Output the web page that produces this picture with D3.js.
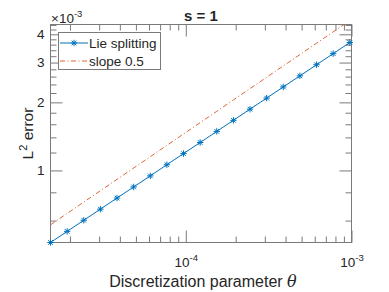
<!DOCTYPE html>
<html>
<head>
<meta charset="utf-8">
<script src="https://cdn.jsdelivr.net/npm/d3@7"></script>
<style>
  body { margin: 0; background: #fff; }
  text { font-family: "Liberation Sans", Arial, sans-serif; fill: #262626; }
</style>
</head>
<body>
<svg id="chart" width="389" height="292"></svg>
<script>
"use strict";

// discretization parameter theta (x)
var theta = [1.526e-5, 1.923e-5, 2.422e-5, 3.052e-5, 3.845e-5, 4.845e-5, 6.104e-5,
  7.690e-5, 9.689e-5, 1.221e-4, 1.538e-4, 1.938e-4, 2.441e-4, 3.076e-4, 3.875e-4,
  4.883e-4, 6.152e-4, 7.751e-4, 9.766e-4];
// L2 error of Lie splitting
var lieError = [0.480e-3, 0.5375e-3, 0.602e-3, 0.674e-3, 0.755e-3, 0.845e-3, 0.946e-3,
  1.060e-3, 1.187e-3, 1.329e-3, 1.488e-3, 1.666e-3, 1.866e-3, 2.089e-3, 2.340e-3,
  2.620e-3, 2.934e-3, 3.285e-3, 3.679e-3];
// reference line, slope 0.5
var slopeRef = [0.575e-3, 0.6454e-3, 0.7245e-3, 0.8132e-3, 0.9128e-3, 1.0246e-3, 1.150e-3,
  1.291e-3, 1.449e-3, 1.627e-3, 1.826e-3, 2.050e-3, 2.300e-3, 2.582e-3, 2.898e-3,
  3.253e-3, 3.652e-3, 4.099e-3, 4.600e-3];

var xMajor = [1e-4, 1e-3],
    xMajorLabels = ["-4", "-3"];
var xMinor = [2e-5, 3e-5, 4e-5, 5e-5, 6e-5, 7e-5, 8e-5, 9e-5,
  2e-4, 3e-4, 4e-4, 5e-4, 6e-4, 7e-4, 8e-4, 9e-4];
var yMajor = [1e-3, 2e-3, 3e-3, 4e-3],
    yMajorLabels = ["1", "2", "3", "4"];
var yMinor = [0.6e-3, 0.8e-3, 1.2e-3, 1.4e-3, 1.6e-3, 1.8e-3, 2.2e-3, 2.4e-3, 2.6e-3,
  2.8e-3, 3.2e-3, 3.4e-3, 3.6e-3, 3.8e-3, 4.2e-3, 4.4e-3];

var seriesNames = ["Lie splitting", "slope 0.5"];

var Draw = (function() {
  var svg = d3.select("#chart");
  var left = 50.5, right = 351.5, top = 24.5, bottom = 242.5;
  var blue = "#0072BD", orange = "#D95319", axisColor = "#7a7a7a";

  var x = d3.scaleLog().domain([1.526e-5, 1e-3]).range([left, right]);
  var y = d3.scaleLog().domain([0.48e-3, 4.42e-3]).range([bottom, top]);

  svg.append("defs").append("clipPath").attr("id", "plotclip")
    .append("rect").attr("x", left).attr("y", top)
    .attr("width", right - left).attr("height", bottom - top);

  // axes: inward ticks on all four sides
  function styleAxis(g) {
    g.select(".domain").remove();
    g.attr("color", axisColor).attr("font-size", null).attr("font-family", null);
  }
  var sides = [
    { ax: d3.axisBottom, at: "translate(0," + bottom + ")", s: x, major: xMajor, minor: xMinor, lab: true },
    { ax: d3.axisTop,    at: "translate(0," + top + ")",    s: x, major: xMajor, minor: xMinor, lab: false },
    { ax: d3.axisLeft,   at: "translate(" + left + ",0)",   s: y, major: yMajor, minor: yMinor, lab: true },
    { ax: d3.axisRight,  at: "translate(" + right + ",0)",  s: y, major: yMajor, minor: yMinor, lab: false }
  ];
  sides.forEach(function(sd) {
    svg.append("g").attr("transform", sd.at)
      .call(sd.ax(sd.s).tickValues(sd.minor).tickSize(-6).tickFormat(""))
      .call(styleAxis);
    var g = svg.append("g").attr("transform", sd.at)
      .call(sd.ax(sd.s).tickValues(sd.major).tickSize(-12)
        .tickPadding(sd.ax === d3.axisBottom ? 14.5 : 6)
        .tickFormat(sd.lab ? null : ""))
      .call(styleAxis);
    g.selectAll("text").attr("font-size", 13.5).attr("fill", "#262626");
  });

  // x tick labels as powers of ten
  svg.selectAll("g").filter(function() {
      return this.getAttribute("transform") === "translate(0," + bottom + ")";
    })
    .selectAll(".tick text")
    .each(function(d) {
      var i = xMajor.indexOf(d);
      if (i < 0) return;
      var t = d3.select(this).text("10");
      t.append("tspan").attr("dy", -6).attr("font-size", 9.5).text(xMajorLabels[i]);
    });
  svg.selectAll("g").filter(function() {
      return this.getAttribute("transform") === "translate(" + left + ",0)";
    })
    .selectAll(".tick text")
    .each(function(d) {
      var i = yMajor.indexOf(d);
      if (i >= 0) d3.select(this).text(yMajorLabels[i]);
    });

  // box
  svg.append("rect").attr("x", left).attr("y", top)
    .attr("width", right - left).attr("height", bottom - top)
    .attr("fill", "none").attr("stroke", axisColor).attr("stroke-width", 1);

  var plot = svg.append("g").attr("clip-path", "url(#plotclip)");

  var line = function(vals) {
    return d3.line().x((d, i) => x(theta[i])).y(d => y(d))(vals);
  };

  plot.append("path").attr("d", line(slopeRef))
    .attr("fill", "none").attr("stroke", orange).attr("stroke-width", 0.9)
    .attr("stroke-dasharray", "5,2.5,1,2.5");

  plot.append("path").attr("d", line(lieError))
    .attr("fill", "none").attr("stroke", blue).attr("stroke-width", 1);

  var r = 3.2, a = r * 0.72;
  var star = "M" + (-r) + ",0H" + r + "M0," + (-r) + "V" + r +
    "M" + (-a) + "," + (-a) + "L" + a + "," + a + "M" + (-a) + "," + a + "L" + a + "," + (-a);

  svg.append("g").selectAll("path").data(lieError).enter().append("path")
    .attr("transform", (d, i) => "translate(" + x(theta[i]) + "," + y(d) + ")")
    .attr("d", star).attr("fill", "none").attr("stroke", blue).attr("stroke-width", 1);

  // exponent label
  var ex = svg.append("text").attr("x", 51).attr("y", 22.5).attr("font-size", 13.5);
  ex.append("tspan").text("\u00d710");
  ex.append("tspan").attr("dy", -6).attr("font-size", 9.5).text("-3");

  // title and axis labels
  svg.append("text").attr("x", (left + right) / 2).attr("y", 20.5)
    .attr("text-anchor", "middle").attr("font-size", 15).attr("font-weight", "bold")
    .attr("fill", "#000").text("s = 1");

  var xl = svg.append("text").attr("x", (left + right) / 2 + 2).attr("y", 287)
    .attr("text-anchor", "middle").attr("font-size", 16);
  xl.append("tspan").text("Discretization parameter ");
  xl.append("tspan").attr("font-style", "italic").attr("font-family", "'DejaVu Serif', serif").text("\u03b8");

  var yl = svg.append("text").attr("transform", "translate(33," + (top + bottom) / 2 + ") rotate(-90)")
    .attr("text-anchor", "middle").attr("font-size", 15.5);
  yl.append("tspan").text("L");
  yl.append("tspan").attr("dy", -6).attr("font-size", 11).text("2");
  yl.append("tspan").attr("dy", 6).text(" error");

  // legend
  var lg = svg.append("g");
  lg.append("rect").attr("x", 58.5).attr("y", 32.5).attr("width", 102).attr("height", 37)
    .attr("fill", "#fff").attr("stroke", axisColor).attr("stroke-width", 1);
  var ly = [43, 61];
  lg.append("line").attr("x1", 60).attr("x2", 88).attr("y1", ly[0]).attr("y2", ly[0])
    .attr("stroke", blue).attr("stroke-width", 1);
  lg.append("path").attr("transform", "translate(74," + ly[0] + ")").attr("d", star)
    .attr("fill", "none").attr("stroke", blue).attr("stroke-width", 1);
  lg.append("line").attr("x1", 60).attr("x2", 88).attr("y1", ly[1]).attr("y2", ly[1])
    .attr("stroke", orange).attr("stroke-width", 0.9).attr("stroke-dasharray", "5,2.5,1,2.5");
  lg.selectAll("text.leg").data(seriesNames).enter().append("text")
    .attr("class", "leg").attr("x", 89).attr("y", (d, i) => ly[i] + 4.8)
    .attr("font-size", 13.5).text(d => d);
});

Draw();
</script>
</body>
</html>
